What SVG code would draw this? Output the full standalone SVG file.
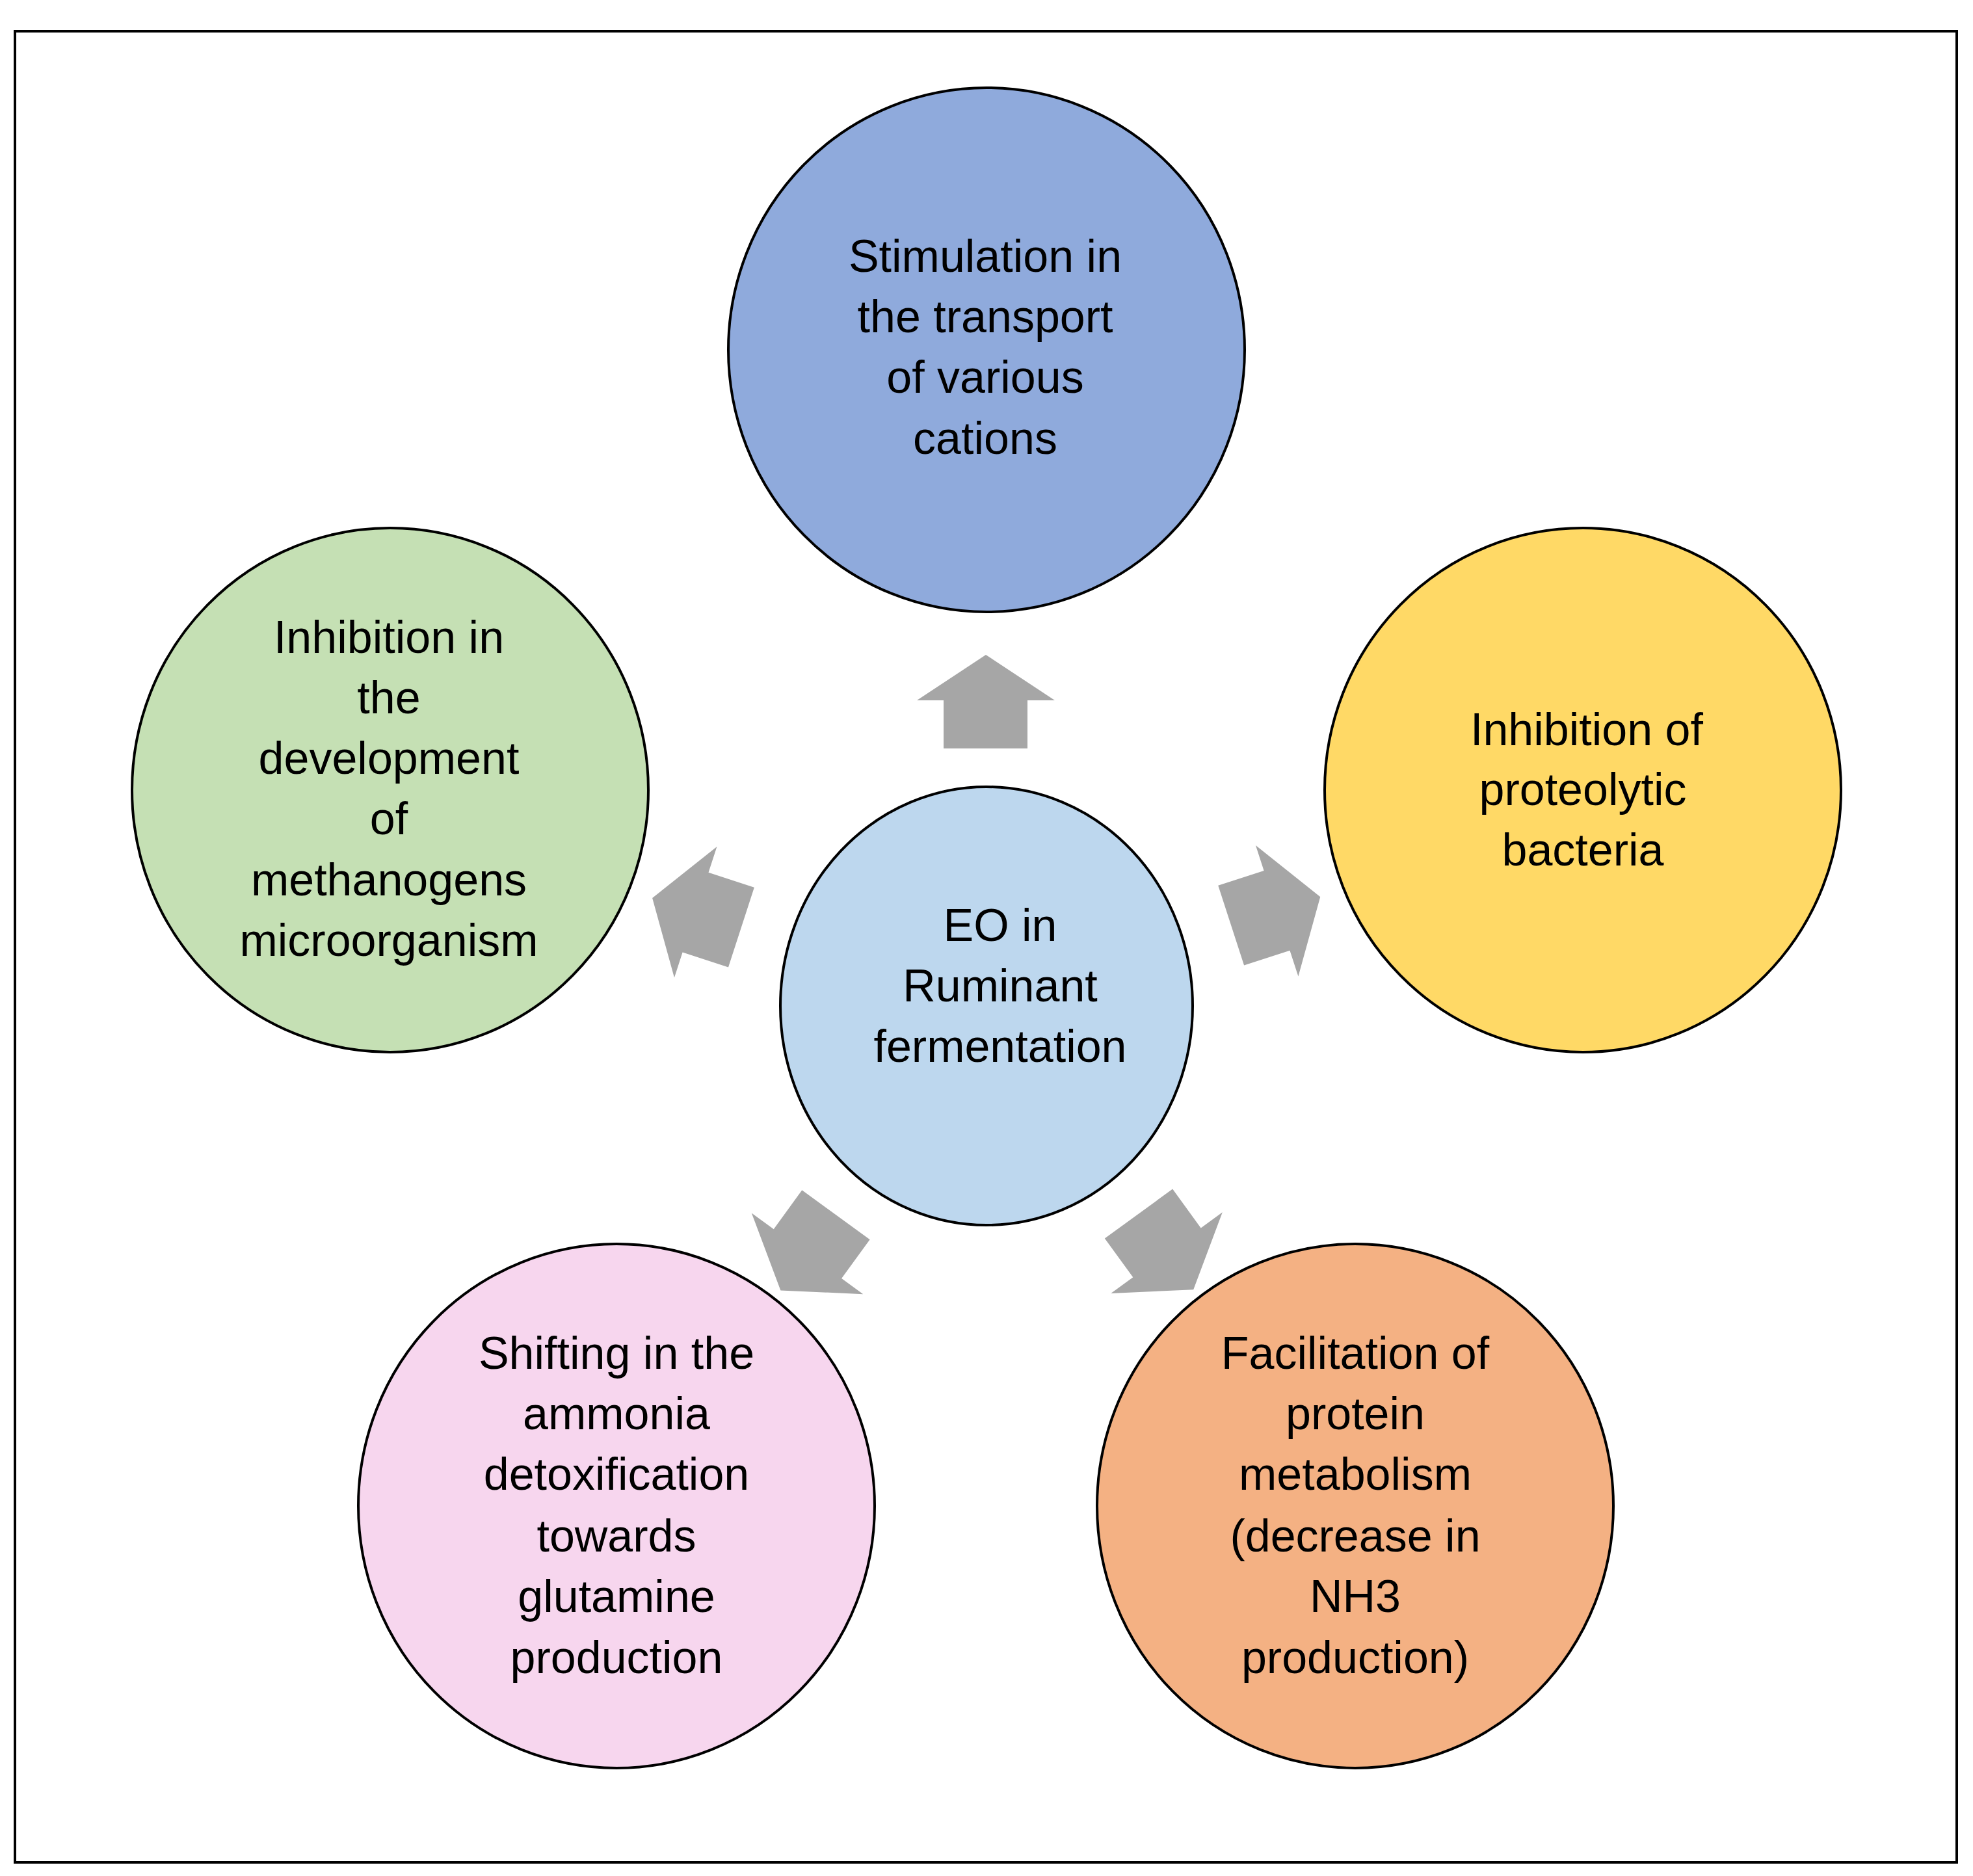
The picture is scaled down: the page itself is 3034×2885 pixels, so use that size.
<svg xmlns="http://www.w3.org/2000/svg" width="3034" height="2885" viewBox="0 0 3034 2885">
<style>
.n{stroke:#000;stroke-width:4}
text{font-family:"Liberation Sans",Arial,sans-serif;font-size:70px;fill:#000;text-anchor:middle}
.a{fill:#A6A6A6}
</style>
<defs>
<polygon id="arr" class="a" points="1516,1007 1622,1077 1580,1077 1580,1151 1451,1151 1451,1077 1410,1077"/>
</defs>
<rect x="23" y="48" width="2986" height="2816" fill="#fff" stroke="#000" stroke-width="4"/>
<g id="connectors">
<use href="#arr"/>
<use href="#arr" transform="rotate(72 1517 1547)"/>
<use href="#arr" transform="rotate(144 1517 1547)"/>
<use href="#arr" transform="rotate(216 1517 1547)"/>
<use href="#arr" transform="rotate(288 1517 1547)"/>
</g>
<g id="top">
<ellipse class="n" cx="1517" cy="538" rx="397" ry="403" fill="#8FAADC"/>
<text x="1515" y="418">Stimulation in</text><text x="1515" y="511">the transport</text><text x="1515" y="604">of various</text><text x="1515" y="698">cations</text>
</g>
<g id="left">
<ellipse class="n" cx="600" cy="1215" rx="397" ry="403" fill="#C5E0B4"/>
<text x="598" y="1004">Inhibition in</text><text x="598" y="1097">the</text><text x="598" y="1190">development</text><text x="598" y="1283">of</text><text x="598" y="1377">methanogens</text><text x="598" y="1470">microorganism</text>
</g>
<g id="right">
<ellipse class="n" cx="2434" cy="1215" rx="397" ry="403" fill="#FFD966"/>
<text x="2440" y="1146">Inhibition of</text><text x="2434" y="1238">proteolytic</text><text x="2434" y="1331">bacteria</text>
</g>
<g id="center">
<ellipse class="n" cx="1517" cy="1547" rx="317" ry="337" fill="#BDD7EE"/>
<text x="1538" y="1447">EO in</text><text x="1538" y="1540">Ruminant</text><text x="1538" y="1633">fermentation</text>
</g>
<g id="bottomleft">
<ellipse class="n" cx="948" cy="2316" rx="397" ry="403" fill="#F7D6EE"/>
<text x="948" y="2105">Shifting in the</text><text x="948" y="2198">ammonia</text><text x="948" y="2291">detoxification</text><text x="948" y="2386">towards</text><text x="948" y="2479">glutamine</text><text x="948" y="2573">production</text>
</g>
<g id="bottomright">
<ellipse class="n" cx="2084" cy="2316" rx="397" ry="403" fill="#F4B183"/>
<text x="2084" y="2105">Facilitation of</text><text x="2084" y="2198">protein</text><text x="2084" y="2291">metabolism</text><text x="2084" y="2386">(decrease in</text><text x="2084" y="2479">NH3</text><text x="2084" y="2573">production)</text>
</g>
</svg>
